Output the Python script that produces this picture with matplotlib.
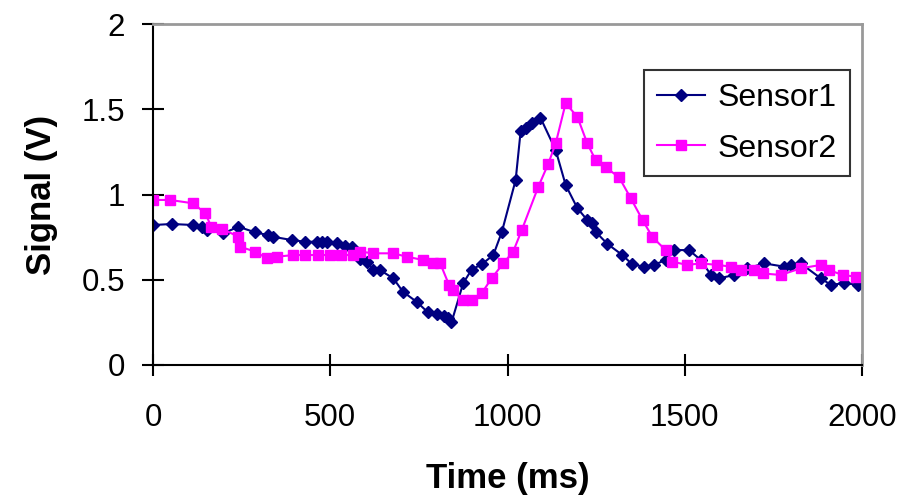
import matplotlib
matplotlib.use("Agg")
import matplotlib.pyplot as plt

# Sensor1 (navy, diamonds)
t1 = [0, 53, 114, 137, 151, 198, 241, 288, 325, 339, 391, 429, 462, 476, 490,
      518, 542, 560, 584, 603, 621, 640, 678, 705, 744, 775, 800, 820, 833,
      842, 875, 899, 927, 960, 984, 1023, 1037, 1051, 1070, 1093, 1136, 1164,
      1197, 1225, 1237, 1249, 1282, 1324, 1352, 1385, 1413, 1446, 1470, 1512,
      1545, 1574, 1597, 1639, 1677, 1724, 1780, 1800, 1827, 1884, 1912, 1950,
      1988]
s1 = [0.821, 0.827, 0.821, 0.811, 0.792, 0.772, 0.811, 0.778, 0.762, 0.752,
      0.733, 0.723, 0.723, 0.723, 0.723, 0.714, 0.70, 0.69, 0.62, 0.606, 0.56,
      0.557, 0.508, 0.43, 0.37, 0.31, 0.30, 0.29, 0.275, 0.25, 0.48, 0.56,
      0.59, 0.645, 0.78, 1.085, 1.37, 1.39, 1.42, 1.45, 1.26, 1.056, 0.92,
      0.85, 0.83, 0.78, 0.71, 0.645, 0.59, 0.577, 0.587, 0.616, 0.674, 0.674,
      0.616, 0.528, 0.508, 0.528, 0.567, 0.596, 0.577, 0.585, 0.596, 0.508,
      0.47, 0.48, 0.47]

# Sensor2 (magenta, squares)
t2 = [0, 48, 114, 147, 165, 194, 241, 245, 288, 321, 349, 396, 430, 465, 500,
      530, 564, 584, 621, 678, 716, 762, 791, 810, 835, 845, 875, 899, 927,
      955, 988, 1016, 1040, 1087, 1115, 1136, 1164, 1197, 1225, 1249, 1277,
      1315, 1348, 1381, 1409, 1446, 1465, 1507, 1545, 1592, 1630, 1658, 1696,
      1720, 1771, 1827, 1884, 1907, 1945, 1983]
s2 = [0.968, 0.968, 0.948, 0.89, 0.81, 0.80, 0.752, 0.694, 0.665, 0.626,
      0.635, 0.645, 0.645, 0.645, 0.645, 0.645, 0.645, 0.665, 0.655, 0.655,
      0.635, 0.616, 0.596, 0.597, 0.47, 0.44, 0.38, 0.38, 0.42, 0.508, 0.596,
      0.665, 0.79, 1.046, 1.18, 1.30, 1.535, 1.456, 1.30, 1.20, 1.16, 1.10,
      0.977, 0.85, 0.75, 0.674, 0.606, 0.587, 0.596, 0.587, 0.577, 0.557,
      0.557, 0.537, 0.528, 0.567, 0.587, 0.557, 0.528, 0.518]

xticks = [0, 500, 1000, 1500, 2000]
yticks = [0, 0.5, 1, 1.5, 2]
ytick_labels = ["0", "0.5", "1", "1.5", "2"]

plt.rcParams['font.family'] = ['Liberation Sans', 'DejaVu Sans']

fig = plt.figure(figsize=(9.05, 4.99), dpi=100)
ax = fig.add_axes([153/905, 1-365/499, 709/905, 341/499])

ax.plot(t1, s1, color='#000080', lw=1.5, marker='D', ms=6, label='Sensor1')
ax.plot(t2, s2, color='#FF00FF', lw=1.5, marker='s', ms=7.5, label='Sensor2')

ax.set_xlim(0, 2000)
ax.set_ylim(0, 2)
ax.set_xticks(xticks)
ax.set_yticks(yticks)
ax.set_yticklabels(ytick_labels)
ax.tick_params(direction='inout', length=16, width=1.5, labelsize=22.5)
ax.tick_params(axis='y', pad=12)
ax.tick_params(axis='x', pad=19)

for s in ['left', 'bottom']:
    ax.spines[s].set_color('black')
    ax.spines[s].set_linewidth(1.5)
for s in ['top', 'right']:
    ax.spines[s].set_color('#999999')
    ax.spines[s].set_linewidth(2)

ax.set_xlabel('Time (ms)', fontsize=25, fontweight='bold', labelpad=21)
ax.set_ylabel('Signal (V)', fontsize=25, fontweight='bold', labelpad=17)

leg = ax.legend(loc='upper right', bbox_to_anchor=(0.983, 0.865), fontsize=23,
                frameon=True, fancybox=False, edgecolor='black',
                handlelength=1.5, handletextpad=0.4, borderpad=0.4,
                labelspacing=0.65, borderaxespad=0)
leg.get_frame().set_linewidth(1.5)

fig.savefig('out.png', dpi=100)
